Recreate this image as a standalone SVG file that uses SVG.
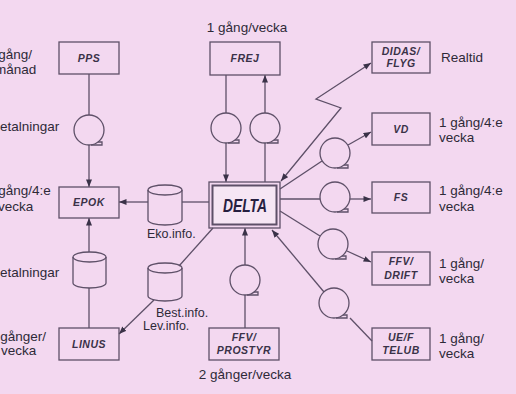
<svg xmlns="http://www.w3.org/2000/svg" width="516" height="394" viewBox="0 0 516 394">
<defs>
<style>
.bg{fill:#f3d8f0}
.box{fill:none;stroke:#5e5068;stroke-width:1.3}
.ln{fill:none;stroke:#5e5068;stroke-width:1.3}
.tape{fill:none;stroke:#5e5068;stroke-width:1.3}
.bt{font-family:"Liberation Sans",Arial,sans-serif;font-weight:bold;font-style:italic;font-size:10.5px;letter-spacing:0.5px;fill:#3a3248;text-anchor:middle}
.lb{font-family:"Liberation Sans",Arial,sans-serif;font-size:13.5px;fill:#2e2a38}
.lbm{font-family:"Liberation Sans",Arial,sans-serif;font-size:13.5px;fill:#2e2a38;text-anchor:middle}
.inf{font-family:"Liberation Sans",Arial,sans-serif;font-size:12.5px;fill:#2e2a38}
</style>
<marker id="ah" viewBox="0 0 10 8" refX="10" refY="4" markerWidth="8" markerHeight="6" markerUnits="userSpaceOnUse" orient="auto-start-reverse">
<path d="M0,0 L10,4 L0,8 Z" fill="#3a3248"/>
</marker>
</defs>
<rect class="bg" x="0" y="0" width="516" height="394"/>

<g id="connectors">
<line class="ln" x1="89" y1="74" x2="89" y2="115"/>
<line class="ln" x1="89" y1="145" x2="89" y2="187" marker-end="url(#ah)"/>
<line class="ln" x1="226" y1="75" x2="226" y2="113"/>
<line class="ln" x1="226" y1="143" x2="226" y2="182" marker-end="url(#ah)"/>
<line class="ln" x1="265" y1="182" x2="265" y2="143"/>
<line class="ln" x1="265" y1="113" x2="265" y2="75" marker-end="url(#ah)"/>
<line class="ln" x1="209" y1="202" x2="182" y2="202"/>
<line class="ln" x1="148" y1="202" x2="119" y2="202" marker-end="url(#ah)"/>
<line class="ln" x1="89" y1="252" x2="89" y2="218" marker-end="url(#ah)"/>
<line class="ln" x1="89" y1="288" x2="89" y2="328"/>
<line class="ln" x1="213" y1="228" x2="179" y2="266"/>
<line class="ln" x1="154" y1="300" x2="119" y2="334" marker-end="url(#ah)"/>
<path class="ln" d="M281,181 L341,108 L316,99 L371,63" marker-start="url(#ah)" marker-end="url(#ah)"/>
<line class="ln" x1="280" y1="189" x2="322" y2="161"/>
<line class="ln" x1="348" y1="145" x2="371" y2="132" marker-end="url(#ah)"/>
<line class="ln" x1="280" y1="199" x2="320" y2="199"/>
<line class="ln" x1="350" y1="199" x2="371" y2="199" marker-end="url(#ah)"/>
<line class="ln" x1="280" y1="211" x2="320" y2="236"/>
<line class="ln" x1="347" y1="251" x2="371" y2="262" marker-end="url(#ah)"/>
<line class="ln" x1="372" y1="341" x2="350" y2="318"/>
<line class="ln" x1="324" y1="292" x2="272" y2="230" marker-end="url(#ah)"/>
<line class="ln" x1="245" y1="328" x2="245" y2="295"/>
<line class="ln" x1="245" y1="265" x2="245" y2="228" marker-end="url(#ah)"/>
</g>

<g id="tapes">
<g id="tape-pps"><circle class="tape" cx="89" cy="130" r="15"/><path class="tape" d="M91,145 H102 V142 H98"/></g>
<g id="tape-frej1"><circle class="tape" cx="226" cy="128" r="15"/><path class="tape" d="M228,143 H239 V140 H235"/></g>
<g id="tape-frej2"><circle class="tape" cx="265" cy="128" r="15"/><path class="tape" d="M267,143 H278 V140 H274"/></g>
<g id="tape-vd"><circle class="tape" cx="335" cy="153" r="15"/><path class="tape" d="M337,168 H348 V165 H344"/></g>
<g id="tape-fs"><circle class="tape" cx="335" cy="197" r="15"/><path class="tape" d="M337,212 H348 V209 H344"/></g>
<g id="tape-drift"><circle class="tape" cx="333" cy="244" r="15"/><path class="tape" d="M335,259 H346 V256 H342"/></g>
<g id="tape-telub"><circle class="tape" cx="334" cy="303" r="15"/><path class="tape" d="M336,318 H347 V315 H343"/></g>
<g id="tape-prostyr"><circle class="tape" cx="245" cy="280" r="15"/><path class="tape" d="M247,295 H258 V292 H254"/></g>
</g>

<g id="cyl-eko">
<path class="box" d="M148,190 V220 A17,5 0 0 0 182,220 V190"/>
<ellipse class="box" cx="165" cy="190" rx="17" ry="5"/>
<text class="inf" x="147" y="238">Eko.info.</text>
</g>
<g id="cyl-linus">
<path class="box" d="M73,257 V283 A16.5,5 0 0 0 106,283 V257"/>
<ellipse class="box" cx="89.5" cy="257" rx="16.5" ry="5"/>
</g>
<g id="cyl-best">
<path class="box" d="M148,268 V296 A17,5 0 0 0 182,296 V268"/>
<ellipse class="box" cx="165" cy="268" rx="17" ry="5"/>
<text class="inf" x="156" y="317">Best.info.</text>
<text class="inf" x="143" y="330">Lev.info.</text>
</g>

<g id="pps"><rect class="box" x="59" y="42" width="60" height="32"/><text class="bt" x="89" y="62">PPS</text></g>
<g id="frej"><rect class="box" x="210" y="42" width="70" height="33"/><text class="bt" x="245" y="62">FREJ</text></g>
<g id="didas"><rect class="box" x="372" y="42" width="58" height="31"/><text class="bt" x="401" y="55">DIDAS/</text><text class="bt" x="401" y="67">FLYG</text></g>
<g id="vd"><rect class="box" x="372" y="113" width="58" height="32"/><text class="bt" x="401" y="133">VD</text></g>
<g id="fs"><rect class="box" x="372" y="182" width="58" height="31"/><text class="bt" x="401" y="201">FS</text></g>
<g id="drift"><rect class="box" x="372" y="252" width="58" height="33"/><text class="bt" x="401" y="265">FFV/</text><text class="bt" x="401" y="279">DRIFT</text></g>
<g id="telub"><rect class="box" x="372" y="328" width="58" height="32"/><text class="bt" x="401" y="341">UE/F</text><text class="bt" x="401" y="354">TELUB</text></g>
<g id="epok"><rect class="box" x="59" y="187" width="60" height="31"/><text class="bt" x="89" y="206">EPOK</text></g>
<g id="linus"><rect class="box" x="59" y="328" width="60" height="32"/><text class="bt" x="89" y="348">LINUS</text></g>
<g id="prostyr"><rect class="box" x="209" y="328" width="70" height="32"/><text class="bt" x="244" y="341">FFV/</text><text class="bt" x="244" y="354">PROSTYR</text></g>
<g id="delta">
<rect class="box" x="209" y="182" width="71" height="46"/>
<rect x="212.5" y="185.5" width="64" height="39" fill="#f6e6f4" stroke="#5e5068" stroke-width="2"/>
<text x="245" y="212" text-anchor="middle" font-family="'Liberation Sans',Arial,sans-serif" font-weight="bold" font-style="italic" font-size="18" fill="#262040" textLength="44" lengthAdjust="spacingAndGlyphs">DELTA</text>
</g>

<g id="labels">
<text class="lbm" x="247" y="32">1 gång/vecka</text>
<text class="lb" x="441" y="62">Realtid</text>
<text class="lb" x="439" y="127">1 gång/4:e</text>
<text class="lb" x="439" y="142">vecka</text>
<text class="lb" x="439" y="195">1 gång/4:e</text>
<text class="lb" x="439" y="211">vecka</text>
<text class="lb" x="439" y="268">1 gång/</text>
<text class="lb" x="439" y="283">vecka</text>
<text class="lb" x="439" y="343">1 gång/</text>
<text class="lb" x="439" y="358">vecka</text>
<text class="lbm" x="245" y="379">2 gånger/vecka</text>
<text class="lb" x="-13" y="59">1 gång/</text>
<text class="lb" x="-5" y="74">månad</text>
<text class="lb" x="-9" y="131">Betalningar</text>
<text class="lb" x="-13" y="195">1 gång/4:e</text>
<text class="lb" x="-2" y="211">vecka</text>
<text class="lb" x="-9" y="277">Betalningar</text>
<text class="lb" x="-11" y="341">2 gånger/</text>
<text class="lb" x="1" y="355">vecka</text>
</g>
</svg>
